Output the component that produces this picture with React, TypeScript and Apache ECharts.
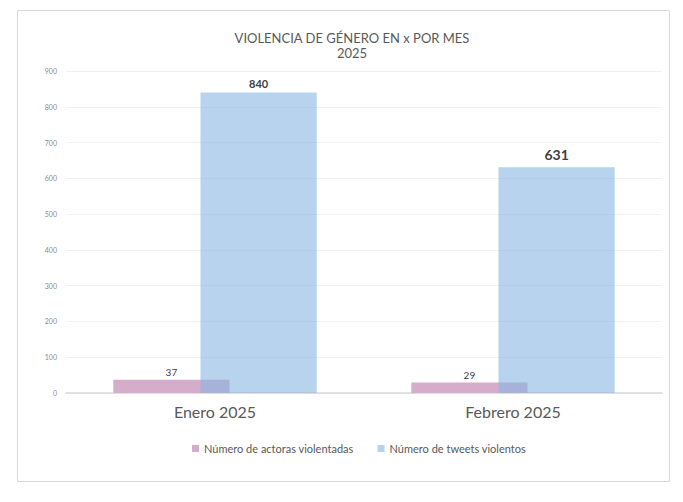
import React, { useEffect, useRef } from "react";
import * as echarts from "echarts";

const categories = ["Enero 2025", "Febrero 2025"];
const actoras = [37, 29];
const tweets = [840, 631];
const seriesNames = ["Número de actoras violentadas", "Número de tweets violentos"];

export default function App() {
  const ref = useRef<HTMLDivElement>(null);
  useEffect(() => {
    if (!ref.current) return;
    const chart = echarts.init(ref.current, null, { renderer: "svg" });
    const font = "Lato, 'Open Sans', sans-serif";
    chart.setOption({
      animation: false,
      backgroundColor: "#ffffff",
      textStyle: { fontFamily: font },
      graphic: [
        {
          type: "rect",
          shape: { x: 17.5, y: 10.5, width: 652, height: 471 },
          style: { fill: "none", stroke: "#d9d9d9", lineWidth: 1 },
          z: -1,
        },
      ],
      title: {
        text: "VIOLENCIA DE GÉNERO EN x POR MES\n2025",
        left: 347,
        textAlign: "center",
        top: 25,
        textStyle: { fontFamily: font, fontSize: 13, fontWeight: "normal", color: "#595959", lineHeight: 15 },
      },
      legend: {
        top: 438,
        left: 187,
        itemWidth: 7,
        itemHeight: 7,
        itemGap: 24,
        icon: "rect",
        textStyle: { fontFamily: font, fontSize: 11, color: "#595959" },
        data: seriesNames,
      },
      grid: { left: 66, right: 21, top: 71, bottom: 109 },
      xAxis: {
        type: "category",
        data: categories,
        axisTick: { show: false },
        axisLine: { lineStyle: { color: "#d9d9d9", width: 1.5 } },
        axisLabel: { fontSize: 16, color: "#595959", margin: 10, fontFamily: font },
      },
      yAxis: {
        type: "value",
        min: 0,
        max: 900,
        interval: 100,
        axisLine: { show: false },
        axisTick: { show: false },
        axisLabel: { fontSize: 7, color: "#8c8c8c", margin: 9, fontFamily: font },
        splitLine: { lineStyle: { color: "#f0f0f0", width: 1 } },
      },
      series: [
        {
          name: seriesNames[0],
          type: "bar",
          data: actoras,
          barWidth: "39%",
          barGap: "-25%",
          itemStyle: { color: "#d5adcb" },
          label: { show: true, position: "top", distance: 3, fontSize: 10, color: "#404040", fontFamily: font },
        },
        {
          name: seriesNames[1],
          type: "bar",
          data: tweets.map((v, i) => ({
            value: v,
            label: i === 0 ? { fontSize: 11, distance: 3 } : { fontSize: 14, distance: 6 },
          })),
          barWidth: "39%",
          itemStyle: { color: "rgba(137,182,226,0.6)" },
          label: { show: true, position: "top", fontWeight: "bold", color: "#404040", fontFamily: font },
        },
      ],
    });
    return () => chart.dispose();
  }, []);
  return <div ref={ref} style={{ position: "absolute", left: 0, top: 0, width: 683, height: 502 }} />;
}
